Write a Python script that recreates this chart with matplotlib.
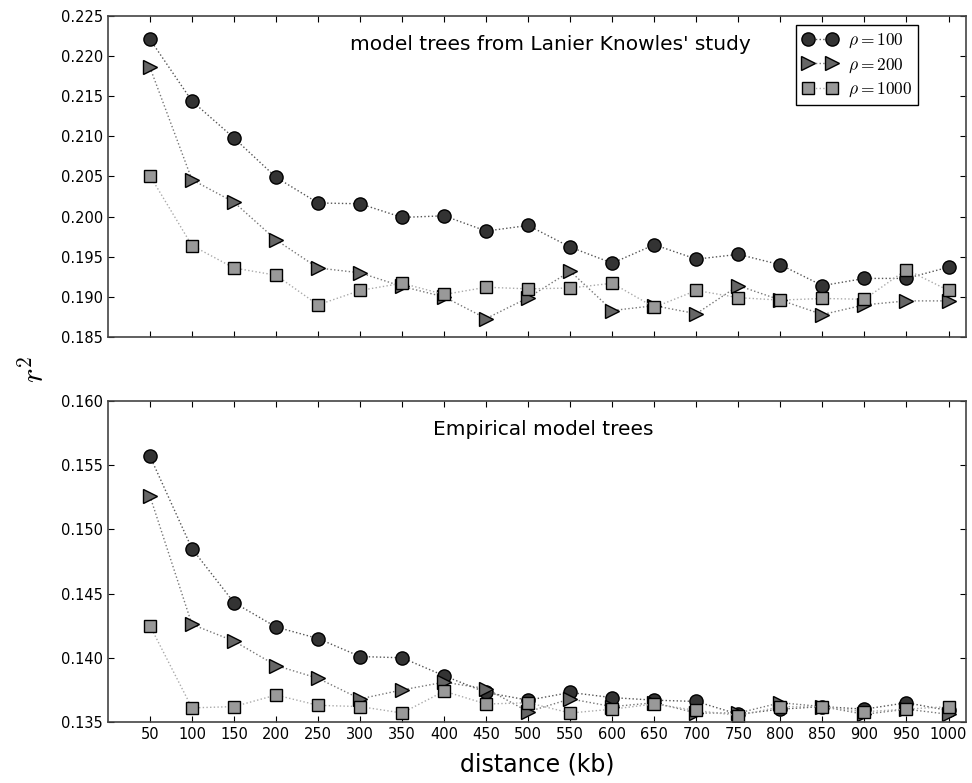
import matplotlib
matplotlib.use("Agg")
import matplotlib.pyplot as plt
from matplotlib.ticker import FormatStrFormatter

distance = [50, 100, 150, 200, 250, 300, 350, 400, 450, 500,
            550, 600, 650, 700, 750, 800, 850, 900, 950, 1000]

top_rho100 = [0.2221, 0.2144, 0.2098, 0.2049, 0.2017, 0.2016, 0.1999, 0.2001, 0.1982, 0.1989,
              0.1962, 0.1942, 0.1965, 0.1947, 0.1953, 0.1940, 0.1914, 0.1923, 0.1923, 0.1937]
top_rho200 = [0.2186, 0.2046, 0.2018, 0.1971, 0.1936, 0.1930, 0.1913, 0.1900, 0.1873, 0.1899,
              0.1932, 0.1883, 0.1889, 0.1879, 0.1914, 0.1896, 0.1878, 0.1890, 0.1895, 0.1895]
top_rho1000 = [0.2051, 0.1964, 0.1936, 0.1927, 0.1890, 0.1908, 0.1917, 0.1903, 0.1912, 0.1910,
               0.1911, 0.1917, 0.1887, 0.1908, 0.1899, 0.1896, 0.1898, 0.1897, 0.1934, 0.1908]

bot_rho100 = [0.1557, 0.1485, 0.1443, 0.1424, 0.1415, 0.1401, 0.1400, 0.1386, 0.1373, 0.1367,
              0.1373, 0.1369, 0.1367, 0.1366, 0.1356, 0.1360, 0.1362, 0.1360, 0.1365, 0.1359]
bot_rho200 = [0.1526, 0.1426, 0.1413, 0.1394, 0.1384, 0.1368, 0.1375, 0.1381, 0.1376, 0.1358,
              0.1368, 0.1362, 0.1365, 0.1357, 0.1357, 0.1365, 0.1362, 0.1356, 0.1360, 0.1356]
bot_rho1000 = [0.1425, 0.1361, 0.1362, 0.1371, 0.1363, 0.1362, 0.1357, 0.1374, 0.1364, 0.1365,
               0.1357, 0.1360, 0.1364, 0.1359, 0.1355, 0.1362, 0.1362, 0.1358, 0.1360, 0.1362]

labels = [r"$\rho=100$", r"$\rho=200$", r"$\rho=1000$"]
top_title = "model trees from Lanier Knowles' study"
bot_title = "Empirical model trees"

plt.rcParams["mathtext.fontset"] = "cm"

fig = plt.figure(figsize=(9.72, 7.83), dpi=100)
ax1 = fig.add_axes([0.111, 0.5696, 0.883, 0.4100])
ax2 = fig.add_axes([0.111, 0.0779, 0.883, 0.4100])

styles = [
    dict(marker="o", markersize=9.5, markerfacecolor="#333333", color="#555555"),
    dict(marker=">", markersize=10, markerfacecolor="#666666", color="#777777"),
    dict(marker="s", markersize=8.5, markerfacecolor="#999999", color="#aaaaaa"),
]

for ax, series in [(ax1, [top_rho100, top_rho200, top_rho1000]),
                   (ax2, [bot_rho100, bot_rho200, bot_rho1000])]:
    for s, st, lab in zip(series, styles, labels):
        ax.plot(distance, s, linestyle=":", linewidth=1.0, markeredgecolor="black",
                markeredgewidth=1.0, label=lab, **st)
    ax.set_xlim(0, 1021)
    ax.set_xticks(distance)
    ax.tick_params(direction="in", top=True, right=True, labelsize=10.5, length=4)
    for sp in ax.spines.values():
        sp.set_color("#444444")
        sp.set_linewidth(1.2)
    ax.yaxis.set_major_formatter(FormatStrFormatter("%.3f"))

ax1.set_ylim(0.185, 0.225)
ax1.set_yticks([0.185 + 0.005 * i for i in range(9)])
ax1.tick_params(labelbottom=False)
ax2.set_ylim(0.135, 0.160)
ax2.set_yticks([0.135 + 0.005 * i for i in range(6)])

ax1.text(0.515, 0.91, top_title, transform=ax1.transAxes, ha="center", va="center", fontsize=14.5)
ax2.text(0.507, 0.91, bot_title, transform=ax2.transAxes, ha="center", va="center", fontsize=14.5)

leg = ax1.legend(loc="upper right", bbox_to_anchor=(0.944, 0.972), borderaxespad=0,
                 numpoints=2, fontsize=12.5,
                 fancybox=False, framealpha=1, edgecolor="black", handlelength=2.0,
                 borderpad=0.35, labelspacing=0.3, handletextpad=0.6)
leg.get_frame().set_linewidth(1.0)

ax2.set_xlabel("distance (kb)", fontsize=17, labelpad=8)
fig.text(0.035, 0.528, r"$r^2$", rotation=90, ha="center", va="center", fontsize=22)

fig.savefig("out.png", dpi=100)
